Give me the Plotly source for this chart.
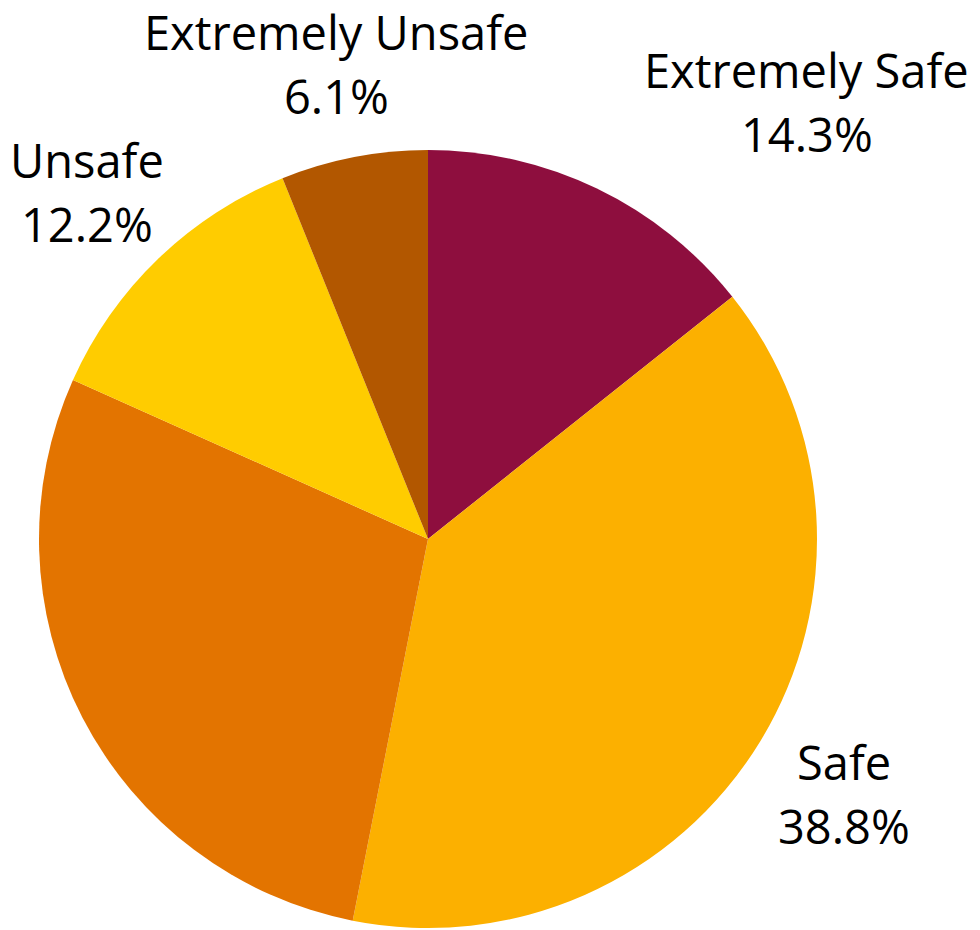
import math
import plotly.graph_objects as go

# Survey responses: perceived safety
categories = ["Extremely Safe", "Safe", "Neutral", "Unsafe", "Extremely Unsafe"]
shares = [14.3, 38.8, 28.6, 12.2, 6.1]
show_label = [True, True, False, True, True]
colors = ["#8E0E3E", "#FCB000", "#E37400", "#FFCC00", "#B25700"]

W, H = 980, 930
CX, CY, R = 428, 539, 389  # pie centre (from top-left) and radius, px

fig = go.Figure(
    go.Pie(
        labels=categories,
        values=shares,
        sort=False,
        direction="clockwise",
        rotation=0,
        marker=dict(colors=colors, line=dict(width=0)),
        textinfo="none",
        hoverinfo="label+percent",
        showlegend=False,
        domain=dict(
            x=[(CX - R) / W, (CX + R) / W],
            y=[(H - CY - R) / H, (H - CY + R) / H],
        ),
    )
)

# Outside labels placed along each slice's mid-angle
label_font = dict(family="Open Sans", size=47, color="#000000")
placement = {  # radial distance (x R) and angular nudge (deg)
    "Extremely Safe": (1.48, 15.4),
    "Safe": (1.26, 0.5),
    "Unsafe": (1.245, -0.8),
    "Extremely Unsafe": (1.235, 0.0),
}
total = sum(shares)
start = 0.0
for name, val, show in zip(categories, shares, show_label):
    frac = val / total
    mid = (start + frac / 2) * 360.0
    start += frac
    if not show:
        continue
    k, nudge = placement.get(name, (1.25, 0.0))
    a = math.radians(mid + nudge)
    px = CX + k * R * math.sin(a)
    py = CY - k * R * math.cos(a) - 3
    for text, dy in ((name, -32), (f"{val:.1f}%", 32)):
        fig.add_annotation(
            x=px / W,
            y=(H - py - dy) / H,
            xref="paper",
            yref="paper",
            text=text,
            showarrow=False,
            font=label_font,
            xanchor="center",
            yanchor="middle",
        )

fig.update_layout(
    width=W,
    height=H,
    margin=dict(l=0, r=0, t=0, b=0),
    paper_bgcolor="#FFFFFF",
    plot_bgcolor="#FFFFFF",
)

fig.write_html("out.html")
